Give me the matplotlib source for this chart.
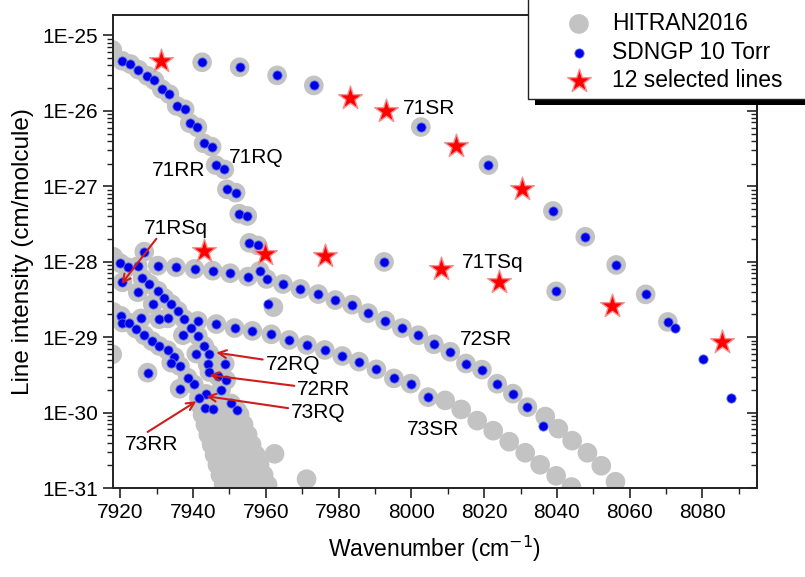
import numpy as np
import matplotlib
matplotlib.use("Agg")
import matplotlib.pyplot as plt
from matplotlib.ticker import FixedLocator, FuncFormatter, NullFormatter
from matplotlib.patches import Rectangle

plt.rcParams['font.family'] = ['Liberation Sans', 'DejaVu Sans']

# ---------------- data (wavenumber cm-1, intensity cm/molecule) ----------------
# lines present in both HITRAN2016 and SDNGP fit
common_wn = [7942.5, 7952.8, 7963.1, 7973.2, 8002.6, 8021.2, 8038.9, 8047.8, 8056.3, 8064.4, 8070.5,
             7992.5, 8039.8,
             7920.5, 7922.8, 7925.0, 7927.4, 7929.4, 7931.4, 7933.5, 7935.5, 7937.7, 7939.1, 7941.2,
             7942.9, 7945.1, 7946.2, 7948.6, 7949.3, 7951.7, 7952.7, 7954.9, 7955.5, 7957.8, 7958.3,
             7920.0, 7922.0, 7924.8, 7930.3, 7935.3, 7940.4, 7945.4, 7950.2, 7955.1, 7960.2, 7964.7,
             7969.5, 7974.4, 7979.1, 7983.7, 7988.1, 7992.8, 7997.4, 8001.9, 8006.2, 8010.7, 8015.0,
             8019.4, 8023.6, 8027.9, 8031.9,
             7946.4, 7951.4, 7956.3, 7961.5, 7966.4, 7971.3, 7976.2, 7981.0, 7985.6, 7990.4, 7995.2,
             7999.8, 8004.6,
             7926.6, 7920.6, 7926.1, 7928.0, 7930.3, 7924.8, 7932.1, 7934.0, 7928.9, 7935.8, 7937.6,
             7930.7, 7933.0, 7941.3, 7939.5, 7937.2, 7941.3, 7943.1, 7940.9, 7944.5, 7944.0, 7948.7,
             7944.5, 7946.8, 7949.1, 7947.7, 7950.5, 7952.1, 7943.4, 7945.6, 7943.6, 7941.6, 7940.2,
             7936.3,
             7920.2, 7920.6, 7922.5, 7925.7, 7924.3, 7926.6, 7928.7, 7930.7, 7933.0, 7934.9, 7934.0,
             7936.4, 7938.5, 7927.5]
common_s = [4.40e-26, 3.78e-26, 2.95e-26, 2.17e-26, 6.1e-27, 1.91e-27, 4.70e-28, 2.14e-28, 9.06e-29, 3.69e-29, 1.59e-29,
            9.93e-29, 4.05e-29,
            4.61e-26, 4.17e-26, 3.51e-26, 2.92e-26, 2.53e-26, 1.94e-26, 1.66e-26, 1.16e-26, 1.05e-26, 6.84e-27, 6.05e-27,
            3.71e-27, 3.35e-27, 1.91e-27, 1.67e-27, 9.12e-28, 8.24e-28, 4.33e-28, 4.04e-28, 1.78e-28, 1.64e-28, 7.53e-29,
            9.55e-29, 8.45e-29, 8.71e-29, 8.87e-29, 8.45e-29, 8.02e-29, 7.60e-29, 7.03e-29, 6.34e-29, 5.90e-29, 5.06e-29,
            4.35e-29, 3.72e-29, 3.10e-29, 2.69e-29, 2.08e-29, 1.66e-29, 1.32e-29, 1.06e-29, 8.04e-30, 6.40e-30, 4.47e-30,
            3.71e-30, 2.41e-30, 1.78e-30, 1.18e-30,
            1.49e-29, 1.32e-29, 1.21e-29, 1.09e-29, 9.18e-30, 7.87e-30, 6.76e-30, 5.62e-30, 4.73e-30, 3.74e-30, 2.84e-30,
            2.42e-30, 1.60e-30,
            1.36e-28, 5.33e-29, 6.03e-29, 5.06e-29, 4.12e-29, 3.93e-29, 3.30e-29, 2.74e-29, 2.74e-29, 2.23e-29, 1.73e-29,
            1.73e-29, 1.77e-29, 1.64e-29, 1.34e-29, 1.06e-29, 1.04e-29, 7.64e-30, 6.05e-30, 6.05e-30, 4.36e-30, 4.45e-30,
            3.44e-30, 3.04e-30, 2.69e-30, 2.02e-30, 1.32e-30, 1.07e-30, 1.16e-30, 1.10e-30, 1.77e-30, 1.57e-30, 2.36e-30,
            2.07e-30,
            1.91e-29, 1.56e-29, 1.56e-29, 1.77e-29, 1.30e-29, 1.06e-29, 8.89e-30, 7.64e-30, 6.70e-30, 5.45e-30, 4.59e-30,
            4.13e-30, 2.90e-30, 3.38e-30]

# lines only in HITRAN2016
hitran_only_wn = [7917.8, 7917.8, 7918.1, 7918.1, 7962.1,
                  8036.8, 8040.4, 8044.2, 8048.4, 8052.2, 8056.1,
                  8009.3, 8013.7, 8018.1, 8022.5, 8026.9, 8031.3, 8035.4, 8039.8, 8044.0,
                  7962.4, 7971.2,
                  7941.8, 7942.6, 7943.4, 7944.2, 7945.1, 7945.9, 7946.7, 7947.5, 7948.4,
                  7945.3, 7946.2, 7947.0, 7947.8, 7948.7, 7949.5, 7950.3, 7951.1, 7952.0, 7952.8,
                  7949.5, 7950.3, 7951.1, 7952.0, 7952.8, 7953.6, 7954.4, 7955.3, 7956.1,
                  7952.8, 7953.9, 7955.0, 7956.1, 7957.2, 7958.3, 7959.4, 7960.5]
hitran_only_s = [6.41e-26, 5.92e-30, 1.16e-28, 2.15e-29, 2.50e-29,
                 8.85e-31, 6.12e-31, 4.24e-31, 2.93e-31, 1.97e-31, 1.21e-31,
                 1.45e-30, 1.10e-30, 7.82e-31, 5.75e-31, 4.11e-31, 2.93e-31, 2.03e-31, 1.45e-31, 1.03e-31,
                 2.84e-31, 1.31e-31,
                 1.28e-30, 9.40e-31, 6.92e-31, 5.09e-31, 3.75e-31, 2.76e-31, 2.03e-31, 1.49e-31, 1.10e-31,
                 1.49e-30, 1.10e-30, 8.07e-31, 5.94e-31, 4.37e-31, 3.21e-31, 2.37e-31, 1.74e-31, 1.28e-31, 9.4e-32,
                 1.28e-30, 9.40e-31, 6.92e-31, 5.09e-31, 3.75e-31, 2.76e-31, 2.03e-31, 1.49e-31, 1.10e-31,
                 9.40e-31, 6.92e-31, 5.09e-31, 3.75e-31, 2.76e-31, 2.03e-31, 1.49e-31, 1.10e-31]

# lines only in SDNGP 10 Torr fit
sdngp_only_wn = [8072.4, 8080.1, 8087.8, 7960.5, 8036.1]
sdngp_only_s = [1.34e-29, 5.08e-30, 1.57e-30, 2.74e-29, 6.58e-31]

# 12 selected lines
selected_wn = [7931.2, 7983.1, 7993.0, 8012.3, 8030.4, 7943.1, 7959.7, 7976.2, 8008.2, 8024.1, 8055.2, 8085.5]
selected_s = [4.6e-26, 1.5e-26, 9.8e-27, 3.4e-27, 9.3e-28, 1.4e-28, 1.27e-28, 1.19e-28, 8.0e-29, 5.4e-29, 2.55e-29, 8.6e-30]

x_ticks = [7920, 7940, 7960, 7980, 8000, 8020, 8040, 8060, 8080]
y_ticks = [1e-31, 1e-30, 1e-29, 1e-28, 1e-27, 1e-26, 1e-25]

# ---------------- figure ----------------
fig = plt.figure(figsize=(8.05, 5.77), dpi=100)
ax = fig.add_axes([113/805, 89/577, 644/805, 473/577])

hitran_wn = common_wn + hitran_only_wn
hitran_s = common_s + hitran_only_s
sdngp_wn = common_wn + sdngp_only_wn
sdngp_s = common_s + sdngp_only_s

gray = '#c3c3c3'
ax.scatter(hitran_wn, hitran_s, s=200, color=gray, edgecolors='none', zorder=2, label='HITRAN2016')
ax.scatter(sdngp_wn, sdngp_s, s=44, color='#0000e6', edgecolors='#5a6cf0', linewidths=0.6, zorder=3,
           label='SDNGP 10 Torr')
ax.scatter(selected_wn, selected_s, s=320, marker='*', color='#ff0000', edgecolors='#f59090', linewidths=1.0,
           zorder=4, label='12 selected lines')

ax.set_yscale('log')
ax.set_xlim(7918, 8095)
ax.set_ylim(1e-31, 10**-24.73)

minor_y = [m * d for d in y_ticks[:-1] for m in range(2, 10)] + [m * 1e-25 for m in (2, 3, 4, 5, 6, 7, 8, 9)]
ax.xaxis.set_major_locator(FixedLocator(x_ticks))
ax.xaxis.set_minor_locator(FixedLocator(np.arange(7930, 8095, 20)))
ax.yaxis.set_major_locator(FixedLocator(y_ticks))
ax.yaxis.set_minor_locator(FixedLocator(minor_y))
ax.yaxis.set_major_formatter(FuncFormatter(lambda v, p: "1E%d" % int(round(np.log10(v)))))
ax.yaxis.set_minor_formatter(NullFormatter())

tick_col = '#222222'
ax.tick_params(axis='both', which='major', labelsize=15, length=7, width=1.2, direction='out', color=tick_col)
ax.tick_params(axis='both', which='minor', length=4, width=1.0, direction='out', color=tick_col)
ax.tick_params(axis='x', which='both', top=False)
ax.tick_params(axis='y', which='both', right=False)
for sp in ax.spines.values():
    sp.set_linewidth(1.4)
    sp.set_color(tick_col)

# right axis: mirrored ticks pointing inward, no labels
sec = ax.secondary_yaxis('right')
sec.set_yscale('log')
sec.yaxis.set_major_locator(FixedLocator(y_ticks))
sec.yaxis.set_minor_locator(FixedLocator(minor_y))
sec.yaxis.set_major_formatter(NullFormatter())
sec.yaxis.set_minor_formatter(NullFormatter())
sec.tick_params(which='major', direction='in', length=7, width=1.2, color=tick_col)
sec.tick_params(which='minor', direction='in', length=4, width=1.0, color=tick_col)
sec.spines['right'].set_linewidth(1.4)
sec.spines['right'].set_color(tick_col)

ax.set_xlabel('Wavenumber (cm$^{-1}$)', fontsize=16.5, labelpad=9)
ax.set_ylabel('Line intensity (cm/molcule)', fontsize=17.5, labelpad=6)

# annotations
fs = 15
ax.text(7997.7, 1.08e-26, '71SR', fontsize=fs, va='center', ha='left')
ax.text(8013.9, 9.85e-29, '71TSq', fontsize=fs, va='center', ha='left')
ax.text(8013.4, 9.4e-30, '72SR', fontsize=fs, va='center', ha='left')
ax.text(7998.7, 5.94e-31, '73SR', fontsize=fs, va='center', ha='left')
ax.text(7928.7, 1.60e-27, '71RR', fontsize=fs, va='center', ha='left')
ax.text(7949.8, 2.39e-27, '71RQ', fontsize=fs, va='center', ha='left')

arrow_color = '#d01c1c'
aprops = dict(arrowstyle='->', color=arrow_color, lw=1.5, shrinkA=0, shrinkB=0, mutation_scale=14)
ax.annotate('', xy=(7920.3, 5.06e-29), xytext=(7929.9, 2.01e-28), arrowprops=aprops)
ax.text(7926.6, 2.79e-28, '71RSq', fontsize=fs, va='center', ha='left')
ax.annotate('72RQ', xy=(7946.4, 6.24e-30), xytext=(7959.9, 4.4e-30), fontsize=fs, va='center', ha='left',
            arrowprops=aprops)
ax.annotate('72RR', xy=(7944.5, 3.14e-30), xytext=(7968.6, 2.02e-30), fontsize=fs, va='center', ha='left',
            arrowprops=aprops)
ax.annotate('73RQ', xy=(7943.6, 1.65e-30), xytext=(7966.9, 1.0e-30), fontsize=fs, va='center', ha='left',
            arrowprops=aprops)
ax.annotate('', xy=(7940.9, 1.41e-30), xytext=(7927.5, 5.53e-31), arrowprops=aprops)
ax.text(7921.4, 3.75e-31, '73RR', fontsize=fs, va='center', ha='left')

# legend: frameless entries on a hand-drawn box with a hard black shadow
leg = ax.legend(loc='upper left', bbox_to_anchor=(556/805, 1 - 12/577), bbox_transform=fig.transFigure,
                fontsize=16.5, frameon=False, borderaxespad=0, borderpad=0,
                handletextpad=0.45, labelspacing=0.25, scatterpoints=1, handlelength=2.0)
leg.set_zorder(11)
box_x0, box_y0 = 528/805, 1 - 99/577
ax.add_patch(Rectangle((box_x0 + 7/805, box_y0 - 6/577), 0.5, 0.5, transform=fig.transFigure,
                       facecolor='black', edgecolor='none', zorder=9, clip_on=False))
ax.add_patch(Rectangle((box_x0, box_y0), 0.5, 0.5, transform=fig.transFigure,
                       facecolor='white', edgecolor=tick_col, linewidth=1.0, zorder=10, clip_on=False))

fig.savefig('out.png', dpi=100)
